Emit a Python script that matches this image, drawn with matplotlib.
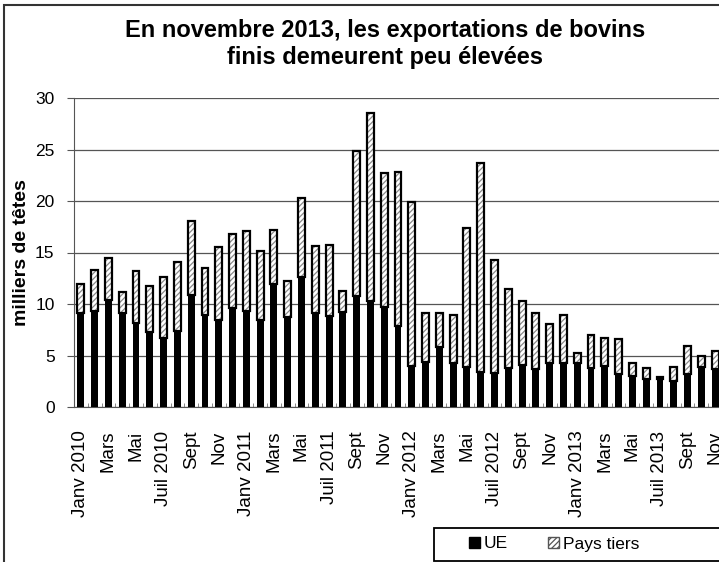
import matplotlib.pyplot as plt
import matplotlib.patches as mpatches
import numpy as np

plt.rcParams['font.family'] = ['Liberation Sans', 'DejaVu Sans']
plt.rcParams['hatch.linewidth'] = 0.9

# Monthly exports (thousand head), Jan 2010 - Nov 2013
ue = [9.1, 9.3, 10.4, 9.1, 8.2, 7.3, 6.7, 7.4, 10.9, 8.9, 8.4, 9.6,
      9.3, 8.4, 11.9, 8.7, 12.6, 9.1, 8.8, 9.2, 10.8, 10.3, 9.7, 7.9,
      4.0, 4.4, 5.8, 4.3, 3.9, 3.4, 3.3, 3.8, 4.1, 3.7, 4.3, 4.3,
      4.3, 3.8, 4.0, 3.2, 3.0, 2.7, 2.7, 2.5, 3.2, 3.9, 3.7]
total = [11.9, 13.3, 14.5, 11.2, 13.2, 11.7, 12.6, 14.1, 18.1, 13.5, 15.5, 16.8,
         17.1, 15.1, 17.2, 12.2, 20.3, 15.6, 15.7, 11.3, 24.9, 28.5, 22.7, 22.8,
         19.9, 9.1, 9.1, 8.9, 17.4, 23.7, 14.3, 11.5, 10.3, 9.1, 8.1, 8.9,
         5.2, 7.0, 6.7, 6.6, 4.3, 3.8, 2.9, 3.9, 5.9, 5.0, 5.4]
pays_tiers = [t - u for t, u in zip(total, ue)]

month_names = ['Janv', 'Févr', 'Mars', 'Avr', 'Mai', 'Juin',
               'Juil', 'Août', 'Sept', 'Oct', 'Nov', 'Déc']
years = [2010, 2011, 2012, 2013]

labels = []
for i in range(len(ue)):
    m = month_names[i % 12]
    y = years[i // 12]
    if i % 12 in (0, 6):
        labels.append(f'{m} {y}')
    else:
        labels.append(m)

x = np.arange(len(ue))

fig = plt.figure(figsize=(7.19, 5.62), dpi=100)
ax = fig.add_axes([74 / 719, 155 / 562, 648 / 719, 309 / 562])

w = 0.5
ax.bar(x, ue, width=w, color='black', zorder=3)
ax.bar(x, pays_tiers, bottom=ue, width=w, color='white', hatch='//////',
       edgecolor='#8a8a8a', linewidth=0, zorder=3)
ax.bar(x, pays_tiers, bottom=ue, width=w, fill=False,
       edgecolor='black', linewidth=1.6, zorder=4)

ax.set_xlim(-0.5, len(ue) - 0.5)
ax.set_ylim(0, 30)
ax.set_yticks(range(0, 31, 5))
ax.yaxis.grid(True, color='#555555', linewidth=0.9, zorder=0)
ax.tick_params(axis='y', labelsize=12.5, length=5, color='#555555', pad=9)

ax.set_xticks(x[::2])
ax.set_xticklabels(labels[::2], rotation=90, fontsize=13.5)
ax.set_xticks(np.arange(-0.5, len(ue), 1), minor=True)
ax.tick_params(axis='x', which='major', length=0, pad=17)
ax.tick_params(axis='x', which='minor', direction='in', length=3, color='#777777')

for s in ['top', 'right']:
    ax.spines[s].set_visible(False)
ax.spines['left'].set_color('#555555')
ax.spines['bottom'].set_color('#555555')

ax.set_ylabel('milliers de têtes', fontsize=14, fontweight='bold')
ax.yaxis.set_label_coords((30 - 74) / 648, 0.5)

fig.text(0.535, (562 - 44) / 562,
         'En novembre 2013, les exportations de bovins\nfinis demeurent peu élevées',
         ha='center', va='center', fontsize=17, fontweight='bold', linespacing=1.2)

# legend box + entries
box = mpatches.Rectangle((433.5 / 719, (562 - 561) / 562), 0.5, 33 / 562,
                         transform=fig.transFigure, facecolor='white',
                         edgecolor='black', linewidth=1.3, clip_on=False)
fig.patches.append(box)
h1 = mpatches.Patch(facecolor='black', edgecolor='black')
h2 = mpatches.Patch(facecolor='white', edgecolor='#555555', hatch='//////')
leg = fig.legend([h1, h2], ['UE', 'Pays tiers'], ncol=2, loc='center left',
                 bbox_to_anchor=(469 / 719, (562 - 544) / 562),
                 fontsize=12.5, frameon=False,
                 handlelength=0.65, handleheight=0.65, handletextpad=0.2,
                 borderaxespad=0, columnspacing=2.3, borderpad=0)

# outer frame of the chart
frame = mpatches.Rectangle((3.5 / 719, -0.05), 1.2, (562 - 5) / 562 + 0.05,
                           transform=fig.transFigure, fill=False,
                           edgecolor='#333333', linewidth=1.5, clip_on=False)
fig.patches.append(frame)

fig.savefig('out.png', dpi=100)
